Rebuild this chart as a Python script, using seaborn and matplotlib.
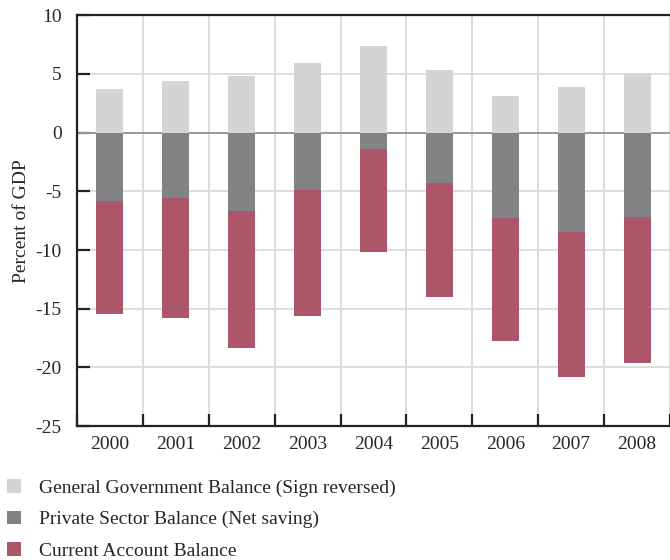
import numpy as np
import pandas as pd
import matplotlib
matplotlib.use("Agg")
import matplotlib.pyplot as plt
import seaborn as sns
from matplotlib.patches import Patch

# ------------------------------------------------------------
# Données (% du PIB)
# ------------------------------------------------------------
years = ["2000", "2001", "2002", "2003", "2004", "2005", "2006", "2007", "2008"]
gov_balance = [3.7, 4.4, 4.85, 5.9, 7.4, 5.3, 3.15, 3.9, 5.1]          # signe inversé
private_balance = [-5.85, -5.6, -6.7, -4.85, -1.4, -4.3, -7.3, -8.45, -7.2]
current_account = [-9.6, -10.2, -11.65, -10.75, -8.8, -9.7, -10.45, -12.4, -12.4]

labels = ["General Government Balance (Sign reversed)",
          "Private Sector Balance (Net saving)",
          "Current Account Balance"]
colors = ["#d3d4d6", "#828384", "#ab5769"]

df = pd.DataFrame({
    "year": years,
    "gov": gov_balance,
    "private": private_balance,
    "ca": current_account,
})
# empilement : le compte courant est posé sous le secteur privé
df["ca_stack"] = df["private"] + df["ca"]

sns.set_theme(style="white")
plt.rcParams["font.family"] = ["Liberation Serif", "DejaVu Serif"]
plt.rcParams["axes.unicode_minus"] = False

fig = plt.figure(figsize=(6.7, 5.6), dpi=100)
ax = fig.add_axes([0.115, 0.239, 0.885, 0.734])

w = 0.41
for col, c in zip(["ca_stack", "private", "gov"], [colors[2], colors[1], colors[0]]):
    sns.barplot(data=df, x="year", y=col, color=c, width=w, saturation=1,
                linewidth=0, edgecolor="none", ax=ax, zorder=3)

ax.set_ylim(-25, 10)
ax.set_xlim(-0.5, 8.43)
ax.set_yticks(np.arange(-25, 11, 5))
ax.set_xticks(np.arange(-0.5, 9, 1), minor=True)

# grille
ax.grid(True, axis="y", which="major", color="#dddddd", lw=1.4, zorder=0)
ax.grid(True, axis="x", which="minor", color="#dddddd", lw=1.4, zorder=0)
ax.grid(False, axis="x", which="major")
ax.axhline(0, color="#9a9a9e", lw=1.4, zorder=1)
ax.set_axisbelow(True)

for s in ["left", "bottom", "top"]:
    ax.spines[s].set_color("#222222")
    ax.spines[s].set_linewidth(1.6)
ax.spines["right"].set_visible(False)

ax.tick_params(axis="y", which="major", direction="in", length=9, width=1.6,
               color="#222222", labelsize=14, pad=11, left=True)
ax.tick_params(axis="x", which="major", length=0, labelsize=14, pad=7)
ax.tick_params(axis="x", which="minor", direction="in", length=9, width=1.6,
               color="#222222", bottom=True)

ax.set_xlabel("")
ax.set_ylabel("Percent of GDP", fontsize=14, labelpad=4)

handles = [Patch(facecolor=c, edgecolor="none", label=l) for c, l in zip(colors, labels)]
fig.legend(handles=handles, loc="upper left", bbox_to_anchor=(-0.004, 0.1625),
           frameon=False, fontsize=14, handlelength=0.72, handleheight=0.72,
           handletextpad=0.9, labelspacing=0.72, borderaxespad=0.3,
           borderpad=0.2)

plt.savefig("out.png", dpi=100)
